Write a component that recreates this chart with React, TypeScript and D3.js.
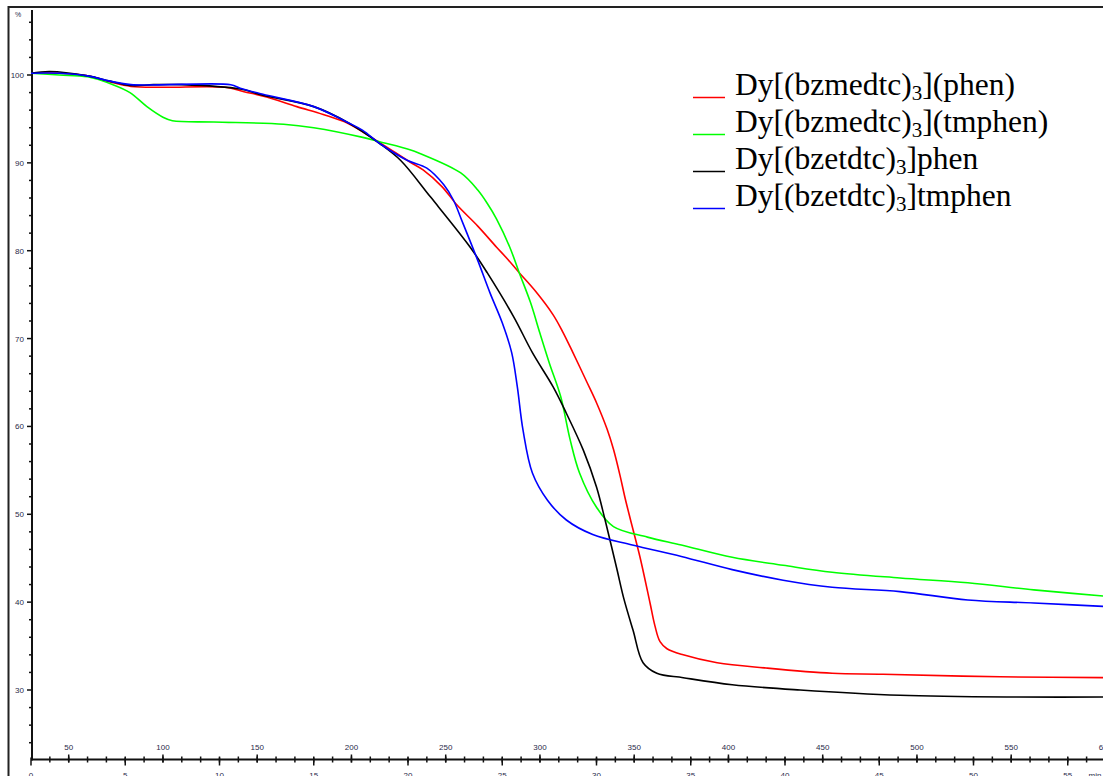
import * as d3 from "d3";
import React, { useEffect, useRef } from "react";

// [time (min), mass (%)]
const redPhen: [number, number][] = [
  [0, 100.2], [1.5, 100.2], [3, 99.9], [4.2, 99.2], [5.3, 98.7], [7, 98.6], [10.3, 98.6],
  [11.3, 98.1], [12.5, 97.5], [14.1, 96.4], [15.5, 95.5], [16.8, 94.5], [18.5, 92.3],
  [20.1, 90.1], [20.8, 89.2], [21.8, 87.3], [22.6, 85.2], [23.7, 82.8], [24.7, 80.4],
  [25.3, 79.0], [25.9, 77.5], [26.8, 75.3], [27.7, 72.7], [28.2, 70.8], [28.75, 68.4],
  [29.5, 65.0], [30.0, 62.7], [30.56, 59.7], [30.9, 57.4], [31.25, 54.4], [31.5, 52.0],
  [31.8, 49.4], [32.3, 45.2], [32.84, 39.9], [33.1, 37.3], [33.37, 35.5], [33.74, 34.7],
  [34.6, 34.0], [36.4, 33.1], [39.0, 32.5], [42.5, 31.9], [45.2, 31.8], [51.4, 31.5], [58, 31.4],
];

const greenTmphen: [number, number][] = [
  [0, 100.2], [1.5, 100.0], [3.0, 99.8], [4.35, 98.9], [5.25, 98.0], [6.15, 96.4], [7.0, 95.2],
  [7.5, 94.8], [9.7, 94.65], [13.4, 94.4], [15.0, 94.0], [17.6, 92.9], [18.5, 92.4],
  [20.1, 91.5], [20.6, 91.1], [22.8, 88.85], [23.7, 86.9], [24.2, 85.4], [24.7, 83.6],
  [25.4, 80.4], [25.9, 77.5], [26.5, 74.1], [27.0, 70.6], [27.5, 67.2], [28.1, 63.4],
  [28.6, 58.5], [29.1, 54.7], [30.0, 50.8], [30.9, 48.6], [32.7, 47.4], [34.5, 46.5],
  [37.2, 45.1], [39.9, 44.2], [42.5, 43.4], [46.1, 42.75], [49.7, 42.2], [53.2, 41.4], [58, 40.5],
];

const blackPhen: [number, number][] = [
  [0, 100.2], [1, 100.4], [3, 99.9], [4.2, 99.3], [5.3, 98.8], [6.5, 98.9], [8, 98.9],
  [11.1, 98.4], [12.3, 97.7], [15, 96.4], [16.8, 94.6], [18.5, 92.2], [19.6, 90.3],
  [21.2, 86.1], [23.3, 80.4], [24.2, 77.5], [25.6, 72.5], [26.6, 68.4], [27.7, 64.5],
  [28.4, 61.5], [29.3, 57.3], [30.0, 53.1], [30.45, 49.4], [30.8, 46.3], [31.1, 43.6],
  [31.45, 40.4], [31.94, 36.8], [32.47, 33.1], [33.2, 31.9], [34.6, 31.4], [37.2, 30.6],
  [40.8, 30.0], [46.1, 29.4], [52.3, 29.2], [58, 29.2],
];

const blueTmphen: [number, number][] = [
  [0, 100.2], [1.5, 100.2], [3, 99.9], [4.2, 99.3], [5.3, 98.9], [10.6, 98.9], [11.1, 98.5],
  [12.3, 97.8], [15, 96.4], [16.8, 94.6], [17.6, 93.7], [18.5, 92.2], [19.95, 90.3],
  [21.0, 89.4], [21.9, 87.5], [22.4, 85.8], [22.9, 83.2], [23.7, 78.9], [24.35, 75.2],
  [25.0, 71.8], [25.5, 68.4], [25.8, 64.5], [26.1, 59.6], [26.6, 54.7], [27.4, 51.6],
  [28.4, 49.35], [29.8, 47.7], [31.9, 46.5], [34.5, 45.2], [37.2, 43.7],
  [39.9, 42.5], [42.5, 41.7], [46.1, 41.2], [49.7, 40.25], [53.2, 39.9], [58, 39.4],
];

const seriesList = [redPhen, greenTmphen, blackPhen, blueTmphen];
const seriesColors = ["#ff0000", "#00ff00", "#000000", "#0000ff"];
const legendPre = ["Dy[(bzmedtc)", "Dy[(bzmedtc)", "Dy[(bzetdtc)", "Dy[(bzetdtc)"];
const legendPost = ["](phen)", "](tmphen)", "]phen", "]tmphen"];

const yMajorTicks = [30, 40, 50, 60, 70, 80, 90, 100];
const timeLabels = [0, 5, 10, 15, 20, 25, 30, 35, 40, 45, 50, 55];
const tempLabels = [50, 100, 150, 200, 250, 300, 350, 400, 450, 500, 550, 600];

const App = () => {
  const ref = useRef<SVGSVGElement>(null);

  useEffect(() => {
    const width = 1103;
    const height = 776;
    const svg = d3.select(ref.current).attr("width", width).attr("height", height);
    svg.selectAll("*").remove();

    const tMax = 58;
    const x = d3.scaleLinear().domain([0, tMax]).range([31, 31 + tMax * 18.85]);
    // heating 10 K/min starting at 30 °C
    const temp = d3.scaleLinear().domain([30, 30 + 10 * tMax]).range(x.range());
    const y = d3.scaleLinear().domain([100, 30]).range([75, 690]);

    const labelFont = "Liberation Sans, Arial, sans-serif";
    const labelColor = "#2a2a4a";

    // outer frame
    svg.append("line").attr("x1", 8.5).attr("x2", 8.5).attr("y1", 6).attr("y2", height)
      .attr("stroke", "#222").attr("stroke-width", 2);
    svg.append("line").attr("x1", 8).attr("x2", width).attr("y1", 7).attr("y2", 7)
      .attr("stroke", "#222").attr("stroke-width", 2);

    const axisY0 = 759.5;
    const axisX0 = 32;

    // y axis
    svg.append("line").attr("x1", axisX0).attr("x2", axisX0).attr("y1", 10).attr("y2", axisY0 + 1)
      .attr("stroke", "#111").attr("stroke-width", 2);
    const minorY = d3.range(24, 107, 2).filter((v) => v % 10 !== 0);
    svg.append("g").selectAll("line").data(minorY).enter().append("line")
      .attr("x1", axisX0 - 3).attr("x2", axisX0).attr("y1", (d) => y(d)).attr("y2", (d) => y(d))
      .attr("stroke", "#111").attr("stroke-width", 1.5);
    svg.append("g").selectAll("line").data(yMajorTicks).enter().append("line")
      .attr("x1", axisX0 - 5).attr("x2", axisX0).attr("y1", (d) => y(d)).attr("y2", (d) => y(d))
      .attr("stroke", "#111").attr("stroke-width", 1.5);
    svg.append("g").selectAll("text").data(yMajorTicks).enter().append("text")
      .attr("x", 24).attr("y", (d) => y(d) + 3).attr("text-anchor", "end")
      .style("font-family", labelFont).style("font-size", "8px").attr("fill", labelColor)
      .text((d) => d);
    svg.append("text").attr("x", 18).attr("y", 17).attr("text-anchor", "middle")
      .style("font-family", labelFont).style("font-size", "7px").attr("fill", labelColor).text("%");

    // x axis: minutes below, temperature (°C) above
    svg.append("line").attr("x1", axisX0 - 1).attr("x2", width).attr("y1", axisY0).attr("y2", axisY0)
      .attr("stroke", "#111").attr("stroke-width", 2);
    svg.append("g").selectAll("line").data(d3.range(1, tMax + 1)).enter().append("line")
      .attr("x1", (d) => x(d)).attr("x2", (d) => x(d)).attr("y1", axisY0 - 3).attr("y2", axisY0 + 3)
      .attr("stroke", "#111").attr("stroke-width", 1.5);
    svg.append("g").selectAll("line").data(timeLabels).enter().append("line")
      .attr("x1", (d) => x(d)).attr("x2", (d) => x(d)).attr("y1", axisY0 - 2).attr("y2", axisY0 + 6)
      .attr("stroke", "#111").attr("stroke-width", 1.5);
    svg.append("g").selectAll("line").data(tempLabels).enter().append("line")
      .attr("x1", (d) => temp(d)).attr("x2", (d) => temp(d)).attr("y1", axisY0 - 5).attr("y2", axisY0 + 3)
      .attr("stroke", "#111").attr("stroke-width", 1.5);
    svg.append("g").selectAll("text").data(tempLabels).enter().append("text")
      .attr("x", (d) => temp(d)).attr("y", 750).attr("text-anchor", "middle")
      .style("font-family", labelFont).style("font-size", "8px").attr("fill", labelColor)
      .text((d) => d);
    svg.append("g").selectAll("text").data(timeLabels).enter().append("text")
      .attr("x", (d) => x(d)).attr("y", 778).attr("text-anchor", "middle")
      .style("font-family", labelFont).style("font-size", "8px").attr("fill", labelColor)
      .text((d) => d);
    svg.append("text").attr("x", 1095).attr("y", 778).attr("text-anchor", "middle")
      .style("font-family", labelFont).style("font-size", "8px").attr("fill", labelColor).text("min");

    // curves
    const line = d3.line<[number, number]>()
      .x((d) => x(d[0]))
      .y((d) => y(d[1]))
      .curve(d3.curveCatmullRom.alpha(0.5));
    seriesList.forEach((s, i) => {
      svg.append("path").datum(s).attr("d", line).attr("fill", "none")
        .attr("stroke", seriesColors[i]).attr("stroke-width", 1.6);
    });

    // legend
    const lg = svg.append("g");
    legendPre.forEach((pre, i) => {
      const base = 95 + i * 37;
      lg.append("line").attr("x1", 693).attr("x2", 725).attr("y1", base + 2.5).attr("y2", base + 2.5)
        .attr("stroke", seriesColors[i]).attr("stroke-width", 1.5);
      const t = lg.append("text").attr("x", 735).attr("y", base)
        .style("font-family", "Liberation Serif, Times New Roman, serif").style("font-size", "31.5px")
        .attr("fill", "#000");
      t.append("tspan").text(pre);
      t.append("tspan").attr("dy", 5).style("font-size", "21px").text("3");
      t.append("tspan").attr("dy", -5).text(legendPost[i]);
    });
  }, []);

  return <svg ref={ref} style={{ position: "absolute", left: 0, top: 0 }}></svg>;
};

export default App;
